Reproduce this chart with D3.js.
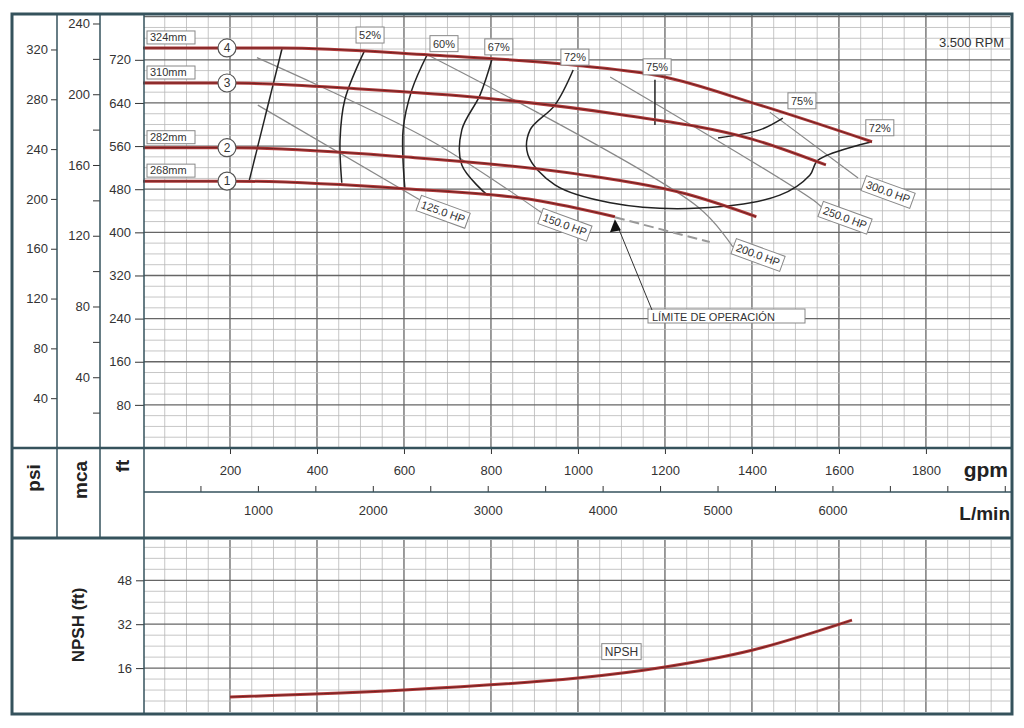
<!DOCTYPE html><html><head><meta charset="utf-8">
<script src="https://cdn.jsdelivr.net/npm/d3@7"></script>
<style>body{margin:0;background:#fff}text{font-family:"Liberation Sans",Arial,sans-serif}</style></head><body>
<svg id="c" width="1024" height="728"></svg>
<script>
// ---- data (gpm, ft) ----
const impellers = ["324mm","310mm","282mm","268mm"];
const impellerNo = ["4","3","2","1"];
const head4 = [[0,742],[315,742],[660,729],[1005,709],[1189,690],[1418,636],[1676,568]];
const head3 = [[0,677],[200,677],[500,666],[800,648],[1100,618],[1400,573],[1570,525]];
const head2 = [[0,557],[200,557],[600,540],[1000,508],[1250,471],[1410,429]];
const head1 = [[0,495],[200,495],[600,481],[900,460],[1085,429]];
const limitLine = [[1085,428],[1303,382]];
const effA = [[244,495],[320,742]];
const eff52 = [[510,738],[464,646],[453,571],[457,492]];
const eff60 = [[653,729],[618,664],[598,590],[602,482]];
const eff67 = [[802,720],[775,655],[733,590],[733,525],[793,468]];
const eff72 = [[989,701],[947,636],[890,590],[885,544],[947,488],[1074,455],[1280,445],[1464,469],[1533,506],[1552,534],[1676,568]];
const eff75a = [[1177,683],[1177,599]];
const eff75b = [[1471,612],[1418,590],[1322,575]];
const effLabels = [["52%",522,766],["60%",692,750],["67%",818,744],["72%",993,725],["75%",1182,707],["75%",1515,644],["72%",1694,594]];
const hp125 = [[264,636],[637,460]];
const hp150 = [[262,724],[660,571],[924,432]];
const hp200 = [[655,729],[1276,447],[1356,373]];
const hp250 = [[1074,688],[1549,455],[1570,438]];
const hp300 = [[1441,623],[1644,501]];
const hpLabels = [["125.0 HP",690,438],["150.0 HP",970,414],["200.0 HP",1414,358],["250.0 HP",1614,427],["300.0 HP",1713,475]];
const npsh = [[200,5.5],[600,8],[1000,12.4],[1200,16.4],[1400,22.5],[1630,33.5]];
const ftTicks = [80,160,240,320,400,480,560,640,720];
const mcaTicks = [40,80,120,160,200,240];
const psiTicks = [40,80,120,160,200,240,280,320];
const gpmTicks = [200,400,600,800,1000,1200,1400,1600,1800];
const lminTicks = [1000,2000,3000,4000,5000,6000];
const npshTicks = [16,32,48];

const svg = d3.select("#c");
const L=144,R=1010,T=14,B=448;
const x = d3.scaleLinear().domain([0,1991]).range([143,1009]);
const y = d3.scaleLinear().domain([0,805]).range([448,14]);
const yMca = d3.scaleLinear().domain([0,805/3.2808]).range([448,14]);
const yPsi = d3.scaleLinear().domain([0,805/2.31]).range([448,14]);
const xL = d3.scaleLinear().domain([0,1991*3.7854]).range([143,1009]);
const yN = d3.scaleLinear().domain([0,60.5]).range([712,546]);
const fmt = d3.format("d");
const grid = svg.append("g");
d3.range(50,1991,50).forEach(g=>{grid.append("line").attr("x1",x(g)).attr("x2",x(g)).attr("y1",T).attr("y2",B)
 .attr("stroke",g%200==0?"#666":"#b8b8b8").attr("stroke-width",g%200==0?1.3:0.8);});
d3.range(20,805,20).forEach(g=>{grid.append("line").attr("x1",L).attr("x2",R).attr("y1",y(g)).attr("y2",y(g))
 .attr("stroke",g%80==0?"#666":"#b8b8b8").attr("stroke-width",g%80==0?1.3:0.8);});
d3.range(50,1991,50).forEach(g=>{grid.append("line").attr("x1",x(g)).attr("x2",x(g)).attr("y1",540).attr("y2",712)
 .attr("stroke",g%200==0?"#666":"#b8b8b8").attr("stroke-width",g%200==0?1.3:0.8);});
d3.range(4,62,4).forEach(g=>{grid.append("line").attr("x1",L).attr("x2",R).attr("y1",yN(g)).attr("y2",yN(g))
 .attr("stroke",g%16==0?"#666":"#b8b8b8").attr("stroke-width",g%16==0?1.3:0.8);});

const line = d3.line().x(d=>x(d[0])).y(d=>y(d[1])).curve(d3.curveCatmullRom);
const lineH = d3.line().x(d=>x(d[0])).y(d=>y(d[1])).curve(d3.curveMonotoneX);
[hp125,hp150,hp200,hp250,hp300].forEach(d=>svg.append("path").attr("d",line(d)).attr("fill","none").attr("stroke","#888").attr("stroke-width",1.2));
svg.append("path").attr("d",line(limitLine)).attr("fill","none").attr("stroke","#999").attr("stroke-width",2).attr("stroke-dasharray","10,5");
[effA,eff52,eff60,eff67,eff72,eff75a,eff75b].forEach(d=>svg.append("path").attr("d",line(d)).attr("fill","none").attr("stroke","#222").attr("stroke-width",1.5));
[head4,head3,head2,head1].forEach(d=>{
 svg.append("path").attr("d",lineH(d)).attr("fill","none").attr("stroke","#b03a3a").attr("stroke-width",3);
 svg.append("path").attr("d",lineH(d)).attr("fill","none").attr("stroke","#5a1a1a").attr("stroke-width",0.8);});
function box(t,cx,cy,rot,fs){const g=svg.append("g").attr("transform",`translate(${cx},${cy}) rotate(${rot||0})`);
 const tx=g.append("text").text(t).attr("font-size",fs||11).attr("text-anchor","middle").attr("dy","0.35em").attr("fill","#333");
 const w=tx.node().getComputedTextLength();
 g.insert("rect","text").attr("x",-w/2-3).attr("y",-8).attr("width",w+6).attr("height",16).attr("fill","#fff").attr("stroke","#888");}
effLabels.forEach(d=>box(d[0],x(d[1]),y(d[2]),0,11));
hpLabels.forEach(d=>box(d[0],x(d[1]),y(d[2]),20,11));
[head4,head3,head2,head1].forEach((d,i)=>{
 const g=svg.append("g");
 g.append("rect").attr("x",147).attr("y",y(d[0][1])-17).attr("width",48).attr("height",13).attr("fill","#fff").attr("stroke","#888");
 g.append("text").attr("x",150).attr("y",y(d[0][1])-7).text(impellers[i]).attr("font-size",11).attr("fill","#333");
 g.append("circle").attr("cx",x(200)-3).attr("cy",y(d[1][1])).attr("r",9).attr("fill","#fff").attr("stroke","#555").attr("stroke-width",1.2);
 g.append("text").attr("x",x(200)-3).attr("y",y(d[1][1])).attr("dy","0.36em").attr("text-anchor","middle").text(impellerNo[i]).attr("font-size",12).attr("fill","#333");});
svg.append("rect").attr("x",648).attr("y",309).attr("width",157).attr("height",14).attr("fill","#fff").attr("stroke","#888");
svg.append("text").attr("x",652).attr("y",321).text("LÍMITE DE OPERACIÓN").attr("font-size",11).attr("fill","#333");
svg.append("line").attr("x1",652).attr("y1",310).attr("x2",x(1085)+4).attr("y2",y(428)+12).attr("stroke","#333");
svg.append("path").attr("d",`M${x(1085)},${y(428)+2} l-5,13 l11,-2 z`).attr("fill","#111");
svg.append("text").attr("x",1004).attr("y",47).attr("text-anchor","end").text("3.500 RPM").attr("font-size",13).attr("fill","#333");
const lineN=d3.line().x(d=>x(d[0])).y(d=>yN(d[1])).curve(d3.curveCatmullRom);
svg.append("path").attr("d",lineN(npsh)).attr("fill","none").attr("stroke","#b03a3a").attr("stroke-width",3);
svg.append("path").attr("d",lineN(npsh)).attr("fill","none").attr("stroke","#5a1a1a").attr("stroke-width",0.8);
box("NPSH",x(1100),yN(22),0,12);
svg.append("g").attr("transform","translate(144,0)").call(d3.axisLeft(y).tickValues(ftTicks).tickSize(9).tickPadding(4).tickFormat(fmt));
svg.append("g").attr("transform","translate(100,0)").call(d3.axisLeft(yMca).tickValues(mcaTicks).tickSize(7).tickPadding(3).tickFormat(fmt));
svg.append("g").attr("transform","translate(100,0)").call(d3.axisLeft(yMca).tickValues(d3.range(20,245,40)).tickSize(7).tickFormat(""));
svg.append("g").attr("transform","translate(57,0)").call(d3.axisLeft(yPsi).tickValues(psiTicks).tickSize(6).tickPadding(3).tickFormat(fmt));
svg.append("g").attr("transform","translate(144,0)").call(d3.axisLeft(yN).tickValues(npshTicks).tickSize(8).tickPadding(4).tickFormat(fmt));
svg.append("g").attr("transform","translate(0,448)").call(d3.axisBottom(x).tickValues(gpmTicks).tickSize(6).tickPadding(12).tickFormat(fmt));
svg.append("g").attr("transform","translate(0,492)").call(d3.axisTop(xL).tickValues(d3.range(500,7501,500)).tickSize(6).tickFormat(""));
svg.append("g").attr("transform","translate(0,492)").call(d3.axisBottom(xL).tickValues(lminTicks).tickSize(0).tickPadding(14).tickFormat(fmt));
svg.selectAll(".domain").remove();
svg.selectAll(".tick text").attr("font-size",13).attr("fill","#333").attr("font-family","Liberation Sans, Arial");
svg.selectAll(".tick line").attr("stroke","#333");
const fc="#35525c";
svg.append("rect").attr("x",12).attr("y",14).attr("width",1000).attr("height",700).attr("fill","none").attr("stroke",fc).attr("stroke-width",3);
[[57,14,57,538],[100,14,100,538],[144,14,144,714]].forEach(d=>svg.append("line").attr("x1",d[0]).attr("y1",d[1]).attr("x2",d[2]).attr("y2",d[3]).attr("stroke",fc).attr("stroke-width",1.5));
svg.append("line").attr("x1",12).attr("x2",1012).attr("y1",448).attr("y2",448).attr("stroke",fc).attr("stroke-width",2.5);
svg.append("line").attr("x1",12).attr("x2",1012).attr("y1",538).attr("y2",538).attr("stroke",fc).attr("stroke-width",3);
svg.append("line").attr("x1",144).attr("x2",1012).attr("y1",492).attr("y2",492).attr("stroke",fc).attr("stroke-width",1.5);
function rot(t,cx,cy,fs){svg.append("text").attr("transform",`translate(${cx},${cy}) rotate(-90)`).attr("text-anchor","middle").attr("dy","0.35em").attr("font-weight","bold").attr("font-size",fs).attr("fill","#222").text(t);}
rot("psi",33,478,19);rot("mca",80,480,19);rot("ft",122,466,19);rot("NPSH (ft)",78,625,17);
svg.append("text").attr("x",1008).attr("y",477).attr("text-anchor","end").attr("font-weight","bold").attr("font-size",21).attr("fill","#222").text("gpm");
svg.append("text").attr("x",1010).attr("y",520).attr("text-anchor","end").attr("font-weight","bold").attr("font-size",19).attr("fill","#222").text("L/min");
</script></body></html>
